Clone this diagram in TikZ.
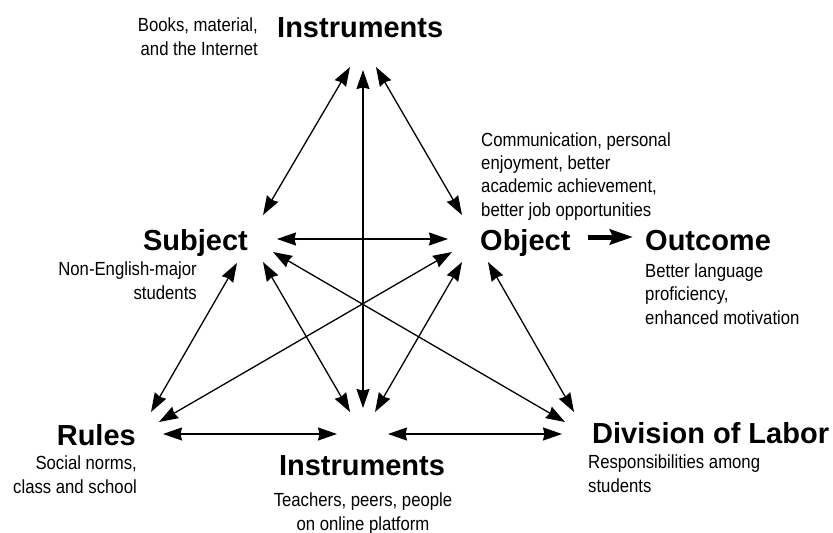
\documentclass[tikz,border=0pt]{standalone}
\usepackage{fontspec}
\setmainfont{Liberation Sans}
\newfontfamily\descfont{Liberation Sans}[FakeStretch=0.88]
\usetikzlibrary{arrows.meta}

\tikzset{
  title/.style={font=\fontsize{29pt}{34pt}\selectfont\bfseries, inner sep=0pt},
  desc/.style={font=\descfont\fontsize{19pt}{23.3pt}\selectfont, inner sep=0pt},
  tip/.style={Stealth[length=19pt,width=13pt,inset=1.5pt]},
  link/.style={line width=1.3pt, {Stealth[length=19pt,width=13pt,inset=1.5pt]}-{Stealth[length=19pt,width=13pt,inset=1.5pt]}},
  flow/.style={line width=5pt, -{Stealth[length=23pt,width=15pt,inset=3pt]}}
}

\begin{document}
\begin{tikzpicture}[x=1pt,y=-1pt]
\useasboundingbox[fill=white] (0,0) rectangle (833,533);

% headings
\node[title, anchor=base west] (instTop) at (277,37) {Instruments};
\node[title, anchor=base east] (subj) at (248,250) {Subject};
\node[title, anchor=base west] (obj) at (480,250) {Object};
\node[title, anchor=base west] (outc) at (645,250) {Outcome};
\node[title, anchor=base east] (rules) at (136,445) {Rules};
\node[title, anchor=base] (instBot) at (362,475) {Instruments};
\node[title, anchor=base west] (div) at (592,443) {Division of Labor};

% descriptions (anchored at the baseline of their last line)
\node[desc, anchor=base east, align=right] (instTopD) at (258,55) {Books, material,\\and the Internet};
\node[desc, anchor=base west, align=left] (objD) at (481,216) {Communication, personal\\enjoyment, better\\academic achievement,\\better job opportunities};
\node[desc, anchor=base east, align=right] (subjD) at (197,299) {Non-English-major\\students};
\node[desc, anchor=base west, align=left] (outcD) at (645,324) {Better language\\proficiency,\\enhanced motivation};
\node[desc, anchor=base east, align=right] (rulesD) at (137,493) {Social norms,\\class and school};
\node[desc, anchor=base, align=center] (instBotD) at (363,530) {Teachers, peers, people\\on online platform};
\node[desc, anchor=base west, align=left] (divD) at (588,492) {Responsibilities among\\students};

% connector ends around each heading
\coordinate (instTop-l) at (350,67);
\coordinate (instTop-c) at (363,70);
\coordinate (instTop-r) at (376,67);
\coordinate (subj-t) at (263,215);
\coordinate (subj-e) at (277,239);
\coordinate (subj-sw) at (237,263);
\coordinate (subj-s) at (263,262);
\coordinate (subj-se) at (273,252);
\coordinate (obj-t) at (462,215);
\coordinate (obj-w) at (448,239);
\coordinate (obj-sw) at (452,252);
\coordinate (obj-s) at (462,262);
\coordinate (obj-se) at (488,262);
\coordinate (obj-e) at (588,237);
\coordinate (outc-w) at (633,237);
\coordinate (rules-n) at (151,412);
\coordinate (rules-ne) at (159,422);
\coordinate (rules-e) at (163,434);
\coordinate (instBot-l) at (350,412);
\coordinate (instBot-c) at (363,408);
\coordinate (instBot-r) at (375,412);
\coordinate (instBot-w) at (337,434);
\coordinate (instBot-e) at (388,434);
\coordinate (div-nw) at (565,422);
\coordinate (div-n) at (574,412);
\coordinate (div-w) at (562,434);

% relations
\draw[link] (instTop-l) -- (subj-t);
\draw[link] (instTop-c) -- (instBot-c);
\draw[link] (instTop-r) -- (obj-t);
\draw[link] (subj-e) -- (obj-w);
\draw[link] (subj-sw) -- (rules-n);
\draw[link] (subj-s) -- (instBot-l);
\draw[link] (subj-se) -- (div-nw);
\draw[link] (obj-sw) -- (rules-ne);
\draw[link] (obj-s) -- (instBot-r);
\draw[link] (obj-se) -- (div-n);
\draw[link] (rules-e) -- (instBot-w);
\draw[link] (instBot-e) -- (div-w);
\draw[flow] (obj-e) -- (outc-w);
\end{tikzpicture}
\end{document}
